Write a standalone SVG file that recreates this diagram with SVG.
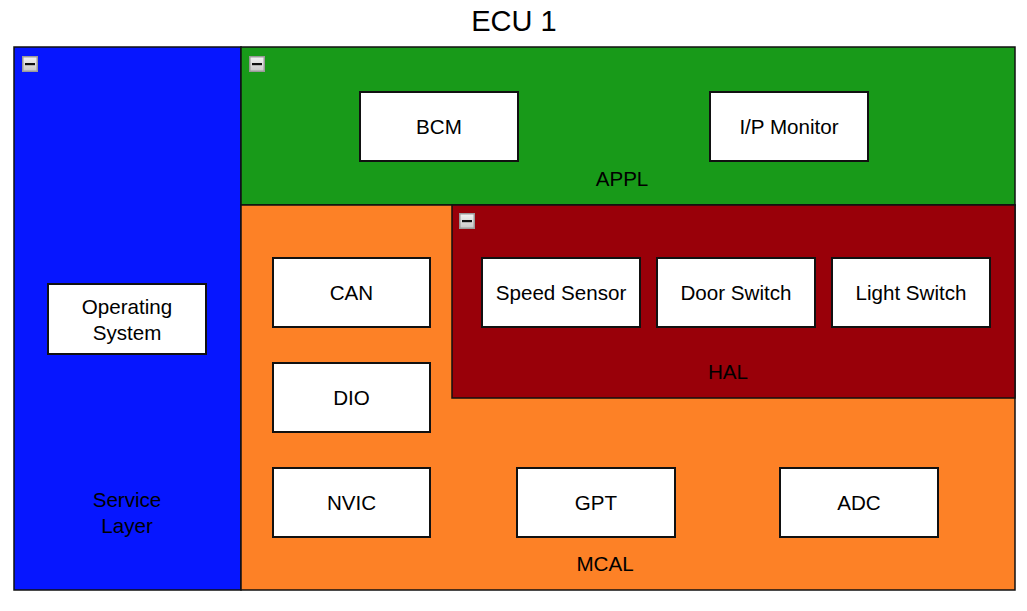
<svg xmlns="http://www.w3.org/2000/svg" width="1027" height="611" viewBox="0 0 1027 611">
<style>
  text { font-family: "Liberation Sans", Arial, sans-serif; font-size: 20.6px; fill: #000; text-anchor: middle; }
  .title { font-size: 29px; }
  .layer { stroke: #111; stroke-width: 1.5; }
  .box { fill: #fff; stroke: #111; stroke-width: 2; }
</style>
<defs>
  <linearGradient id="ig" x1="0" y1="0" x2="0" y2="1">
    <stop offset="0" stop-color="#f4f4f4"/>
    <stop offset="1" stop-color="#c8c8c8"/>
  </linearGradient>
  <g id="icon">
    <rect x="0.75" y="0.75" width="14.5" height="14.5" fill="url(#ig)" stroke="#9a9a9a" stroke-width="1.5"/>
    <rect x="3" y="7" width="10" height="2.2" fill="#111"/>
  </g>
</defs>
<rect width="1027" height="611" fill="#fff"/>
<text class="title" x="514" y="31">ECU 1</text>

<g id="service-layer">
  <rect class="layer" x="14" y="47" width="227" height="543" fill="#0616ff"/>
  <use href="#icon" x="22" y="56"/>
  <text x="127" y="507">Service</text>
  <text x="127" y="533">Layer</text>
</g>
<g id="operating-system">
  <rect class="box" x="48" y="284" width="158" height="70"/>
  <text x="127" y="314">Operating</text>
  <text x="127" y="340">System</text>
</g>

<g id="appl">
  <rect class="layer" x="241" y="47" width="774" height="158" fill="#189a19"/>
  <use href="#icon" x="249" y="56"/>
  <text x="622" y="186">APPL</text>
</g>
<g id="bcm">
  <rect class="box" x="360" y="92" width="158" height="69"/>
  <text x="439" y="134">BCM</text>
</g>
<g id="ip-monitor">
  <rect class="box" x="710" y="92" width="158" height="69"/>
  <text x="789" y="134">I/P Monitor</text>
</g>

<g id="mcal">
  <rect class="layer" x="241" y="205" width="774" height="385" fill="#fd8126"/>
  <text x="605" y="571">MCAL</text>
</g>
<g id="can">
  <rect class="box" x="273" y="258" width="157" height="69"/>
  <text x="351.5" y="300">CAN</text>
</g>
<g id="dio">
  <rect class="box" x="273" y="363" width="157" height="69"/>
  <text x="351.5" y="405">DIO</text>
</g>
<g id="nvic">
  <rect class="box" x="273" y="468" width="157" height="69"/>
  <text x="351.5" y="510">NVIC</text>
</g>
<g id="gpt">
  <rect class="box" x="517" y="468" width="158" height="69"/>
  <text x="596" y="510">GPT</text>
</g>
<g id="adc">
  <rect class="box" x="780" y="468" width="158" height="69"/>
  <text x="859" y="510">ADC</text>
</g>

<g id="hal">
  <rect class="layer" x="452" y="205" width="563" height="193" fill="#990009"/>
  <use href="#icon" x="459" y="213"/>
  <text x="728" y="379">HAL</text>
</g>
<g id="speed-sensor">
  <rect class="box" x="482" y="258" width="158" height="69"/>
  <text x="561" y="300">Speed Sensor</text>
</g>
<g id="door-switch">
  <rect class="box" x="657" y="258" width="158" height="69"/>
  <text x="736" y="300">Door Switch</text>
</g>
<g id="light-switch">
  <rect class="box" x="832" y="258" width="158" height="69"/>
  <text x="911" y="300">Light Switch</text>
</g>

<g id="connectors"></g>
</svg>
